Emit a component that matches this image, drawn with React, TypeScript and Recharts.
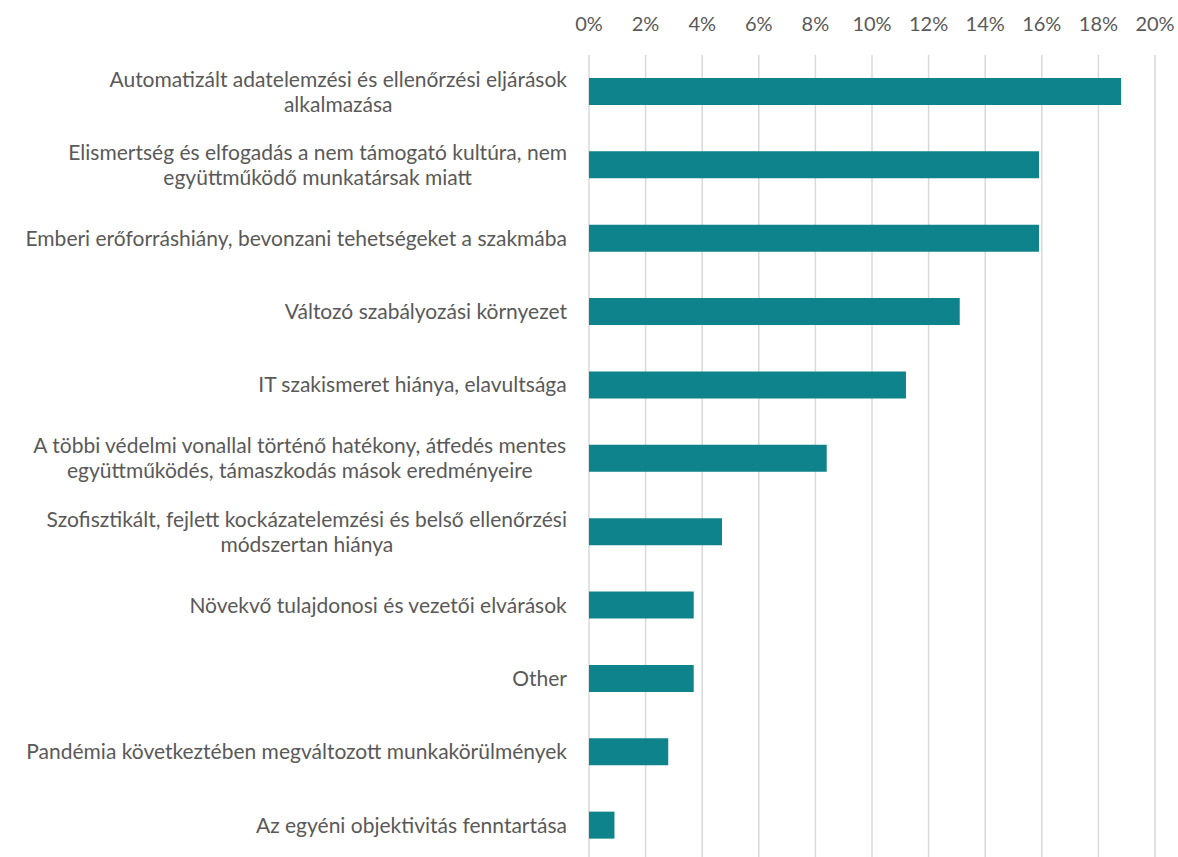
import React from 'react'
import { BarChart, Bar, XAxis, YAxis, CartesianGrid } from 'recharts'

const categories = [
  'Automatizált adatelemzési és ellenőrzési eljárások\nalkalmazása',
  'Elismertség és elfogadás a nem támogató kultúra, nem\negyüttműködő munkatársak miatt',
  'Emberi erőforráshiány, bevonzani tehetségeket a szakmába',
  'Változó szabályozási környezet',
  'IT szakismeret hiánya, elavultsága',
  'A többi védelmi vonallal történő hatékony, átfedés mentes\negyüttműködés, támaszkodás mások eredményeire',
  'Szofisztikált, fejlett kockázatelemzési és belső ellenőrzési\nmódszertan hiánya',
  'Növekvő tulajdonosi és vezetői elvárások',
  'Other',
  'Pandémia következtében megváltozott munkakörülmények',
  'Az egyéni objektivitás fenntartása',
]
const shares = [0.188, 0.159, 0.159, 0.131, 0.112, 0.084, 0.047, 0.037, 0.037, 0.028, 0.009]
const xTicks = [0, 0.02, 0.04, 0.06, 0.08, 0.1, 0.12, 0.14, 0.16, 0.18, 0.2]

const data = categories.map((name, i) => ({ name, value: shares[i] }))

const FONT = 'Lato, "Open Sans", sans-serif'
const FS = 21
const TEXT = '#595959'

let ctx: CanvasRenderingContext2D | null = null
function measure(s: string) {
  if (!ctx) ctx = document.createElement('canvas').getContext('2d')
  if (!ctx) return s.length * FS * 0.5
  ctx.font = `${FS}px ${FONT}`
  return ctx.measureText(s).width
}

const CategoryTick = (props: any) => {
  const { y, payload } = props
  const lines: string[] = String(payload.value).split('\n')
  const maxW = Math.max(...lines.map(measure))
  const right = 567
  const lh = 25
  return (
    <g>
      {lines.map((l, i) => (
        <text
          key={i}
          x={right - maxW / 2}
          y={y + (i - (lines.length - 1) / 2) * lh}
          dy="0.35em"
          textAnchor="middle"
          fill={TEXT}
          fontSize={FS}
          fontFamily={FONT}
        >
          {l}
        </text>
      ))}
    </g>
  )
}

const PercentTick = (props: any) => {
  const { x, payload } = props
  return (
    <text x={x} y={31} textAnchor="middle" fill={TEXT} fontSize={20} fontFamily={FONT}>
      {Math.round(payload.value * 100) + '%'}
    </text>
  )
}

export default function App() {
  return (
    <div
      style={{
        position: 'fixed',
        left: 0,
        top: 0,
        background: '#fff',
        width: 1178,
        height: 857,
        overflow: 'hidden',
      }}
    >
      <BarChart
        width={1178}
        height={870}
        data={data}
        layout="vertical"
        barSize={27}
        margin={{ top: 15, right: 23, bottom: 8, left: 0 }}
      >
        <CartesianGrid horizontal={false} stroke="#d9d9d9" strokeWidth={1.5} />
        <XAxis
          type="number"
          orientation="top"
          domain={[0, 0.2]}
          ticks={xTicks}
          axisLine={false}
          tickLine={false}
          height={40}
          tick={<PercentTick />}
        />
        <YAxis
          type="category"
          dataKey="name"
          width={589}
          axisLine={false}
          tickLine={false}
          interval={0}
          tick={<CategoryTick />}
        />
        <Bar dataKey="value" fill="#0e838c" isAnimationActive={false} />
      </BarChart>
    </div>
  )
}
